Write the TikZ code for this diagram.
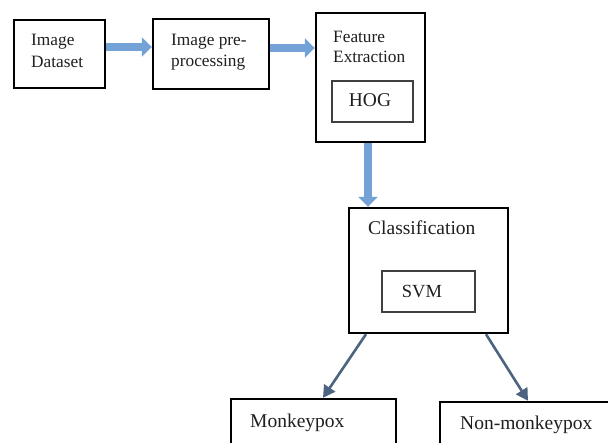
\documentclass[tikz,border=0pt]{standalone}
\usepackage{fontspec}
\setmainfont{Liberation Serif}
\usetikzlibrary{arrows.meta}
\definecolor{flowblue}{HTML}{73A3D6}
\definecolor{darkarr}{HTML}{4C6480}
\tikzset{
  outerbox/.style={draw=black, line width=2.4pt, rectangle, inner sep=0pt},
  innerbox/.style={draw=black!75, line width=1.4pt, rectangle, inner sep=0pt},
  txt/.style={inner sep=0pt, font=\fontsize{19.5}{22}\selectfont, text=black!88},
  smalltxt/.style={txt, font=\fontsize{17.3}{20}\selectfont},
  blockarrow/.style={draw=flowblue, line width=8pt, -{Triangle[length=10pt, width=19pt]}},
  thinarrow/.style={draw=darkarr, line width=2.6pt, -{Triangle[length=12pt, width=13pt]}}
}
\begin{document}
\begin{tikzpicture}[x=1pt, y=-1pt]
\useasboundingbox (0,0) rectangle (608,443);
\clip (0,0) rectangle (608,443);
\fill[white] (0,0) rectangle (608,443);
% boxes
\node[outerbox, minimum width=91pt, minimum height=68pt] (ds) at (59.5,54) {};
\node[outerbox, minimum width=116pt, minimum height=70pt] (pre) at (211,54) {};
\node[outerbox, minimum width=109pt, minimum height=129pt] (fe) at (370.5,77.5) {};
\node[innerbox, minimum width=81pt, minimum height=41pt] (hogbox) at (372.5,101.5) {};
\node[outerbox, minimum width=159pt, minimum height=125pt] (cls) at (428.5,270.5) {};
\node[innerbox, minimum width=93pt, minimum height=41pt] (svmbox) at (428.5,291.5) {};
\node[outerbox, minimum width=165pt, minimum height=80pt] (mp) at (313.5,439) {};
\node[outerbox, minimum width=220pt, minimum height=80pt] (nm) at (550,442) {};
% texts
\node[smalltxt, anchor=base west] (t1) at (31,46) {Image};
\node[smalltxt, anchor=base west] (t2) at (31,68) {Dataset};
\node[smalltxt, anchor=base west] (t3) at (171,46) {Image pre-};
\node[smalltxt, anchor=base west] (t4) at (171,67) {processing};
\node[smalltxt, anchor=base west] (t5) at (333,43) {Feature};
\node[smalltxt, anchor=base west] (t6) at (333,63) {Extraction};
\node[txt] (t7) at (370,100.5) {HOG};
\node[txt, anchor=base west] (t8) at (368,235) {Classification};
\node[txt, font=\fontsize{18.5}{21}\selectfont] (t9) at (422,292) {SVM};
\node[txt, anchor=base west] (t10) at (250,428) {Monkeypox};
\node[txt, anchor=base west] (t11) at (460,430) {Non-monkeypox};
% connectors
\draw[blockarrow] ([yshift=7pt]ds.east) -- ([yshift=7pt]pre.west);
\draw[blockarrow] ([yshift=6pt]pre.east) -- ([yshift=6pt]pre.east -| fe.west);
\draw[blockarrow] ([xshift=-2.5pt]fe.south) -- ([xshift=-2.5pt]fe.south |- cls.north);
\draw[thinarrow] ([xshift=-62.5pt]cls.south) -- ([xshift=9.5pt]mp.north);
\draw[thinarrow] ([xshift=57.5pt]cls.south) -- ([xshift=-22pt]nm.north);
\end{tikzpicture}
\end{document}
